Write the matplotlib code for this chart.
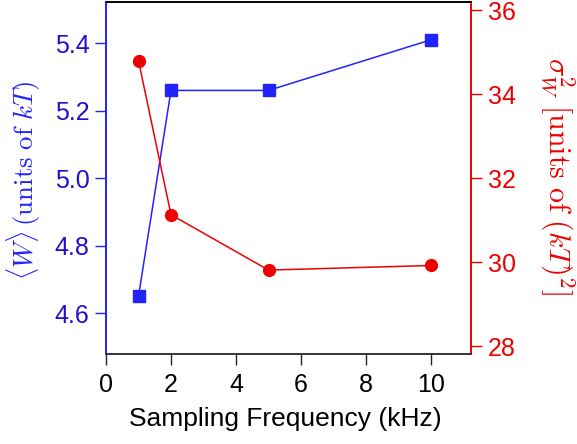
import matplotlib
matplotlib.use("Agg")
import matplotlib.pyplot as plt

plt.rcParams['font.family'] = ['Liberation Sans', 'DejaVu Sans']
plt.rcParams['mathtext.fontset'] = 'cm'

freq_khz = [1, 2, 5, 10]
mean_work = [4.65, 5.26, 5.26, 5.41]
var_work = [34.8, 31.13, 29.81, 29.92]
x_ticks = [0, 2, 4, 6, 8, 10]
left_ticks = [4.6, 4.8, 5.0, 5.2, 5.4]
right_ticks = [28, 30, 32, 34, 36]

blue = '#2222FF'
blue_text = '#2211CC'
red = '#EE0000'

fig = plt.figure(figsize=(5.77, 4.44), dpi=100)
ax = fig.add_axes([106/577, 1-354/444, (471-106)/577, (354-2)/444])
ax2 = ax.twinx()

ax.plot(freq_khz, mean_work, '-', color=blue, lw=1.1, marker='s', ms=8.5, zorder=3)
ax2.plot(freq_khz, var_work, '-', color=red, lw=1.1, marker='o', ms=8.5, zorder=3)

ax.set_xlim(0, 11.23)
ax.set_ylim(4.479, 5.522)
ax2.set_ylim(27.81, 36.2)

ax.set_xticks(x_ticks)
ax.set_yticks(left_ticks)
ax.set_yticklabels([f"{v:.1f}" for v in left_ticks])
ax2.set_yticks(right_ticks)

ax.tick_params(axis='x', direction='out', length=8, width=1, labelsize=18, colors='#222222', labelcolor='black', pad=6)
ax.tick_params(axis='y', direction='out', length=8, width=1, labelsize=18, colors=blue, labelcolor=blue_text, pad=4)
ax2.tick_params(axis='y', direction='out', length=8, width=1, labelsize=18, colors=red, labelcolor=red, pad=4)

for a in (ax, ax2):
    a.spines['left'].set_color(blue)
    a.spines['right'].set_color(red)
    a.spines['bottom'].set_color('#333333')
    a.spines['top'].set_color('black')
    for s in a.spines.values():
        s.set_linewidth(1.2)

ax.set_xlabel('Sampling Frequency (kHz)', fontsize=19)
ax.xaxis.set_label_coords(0.49, -0.15)
ax.set_ylabel(r'$\langle W\rangle\,(\mathrm{units\ of}\ kT)$', fontsize=19.3, color=blue, va='center')
ax.yaxis.set_label_coords(-0.225, 0.494)
ax2.set_ylabel(r'$\sigma_W^2\ [\mathrm{units\ of}\ (kT)^2]$', fontsize=21.5, color=red, rotation=270, va='center')
ax2.yaxis.set_label_coords(1.235, 0.504)

fig.savefig('out.png', dpi=100)
